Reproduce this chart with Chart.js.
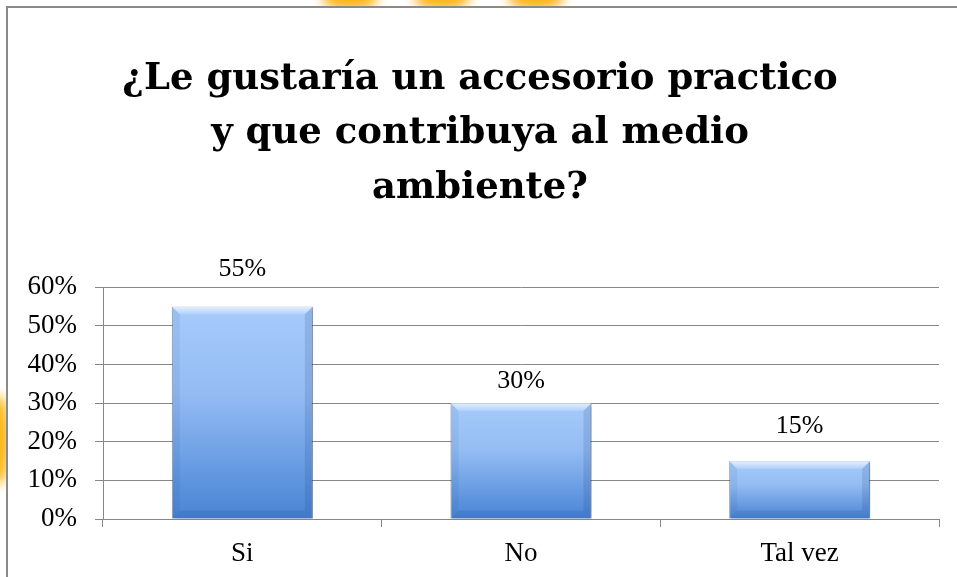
<!DOCTYPE html>
<html>
<head>
<meta charset="utf-8">
<script src="https://cdn.jsdelivr.net/npm/chart.js@4.4.1/dist/chart.umd.min.js"></script>
<style>
  html, body { margin: 0; padding: 0; background: #fff; width: 957px; height: 577px; overflow: hidden; }
  .blob { position: absolute; border-radius: 50%; filter: blur(6px); background: #fbb512; }
  #frame { position: absolute; left: 6px; top: 6px; width: 951px; height: 571px;
           border-top: 2px solid #8a8a8a; border-left: 2px solid #8a8a8a; background: #fff; }
  #wrap { position: absolute; left: 21px; top: 8px; width: 936px; height: 569px; }
</style>
</head>
<body>
<div class="blob" style="left:322px; top:-14px; width:56px; height:24px;"></div>
<div class="blob" style="left:414px; top:-14px; width:56px; height:24px;"></div>
<div class="blob" style="left:508px; top:-14px; width:56px; height:24px;"></div>
<div class="blob" style="left:-14px; top:395px; width:24px; height:90px;"></div>
<div id="frame"></div>
<div id="wrap"><canvas id="c" width="936" height="569"></canvas></div>
<script>
const titleLines = ['¿Le gustaría un accesorio practico', 'y que contribuya al medio', 'ambiente?'];
const categories = ['Si', 'No', 'Tal vez'];
const values = [55, 30, 15];
const yTickValues = [0, 10, 20, 30, 40, 50, 60];

const labelGap = [37, 22, 35];

const barDecor = {
  id: 'barDecor',
  beforeDatasetsDraw(chart) {
    const c = chart.ctx;
    c.save();
    c.shadowColor = 'rgba(0,0,0,0.32)';
    c.shadowBlur = 5;
    c.shadowOffsetX = 2;
    c.shadowOffsetY = 2;
  },
  afterDatasetsDraw(chart) {
    const c = chart.ctx;
    c.restore();
    const meta = chart.getDatasetMeta(0);
    meta.data.forEach((bar, i) => {
      const left = bar.x - bar.width / 2, right = bar.x + bar.width / 2;
      const top = bar.y, bot = bar.base;
      const b = Math.min(8, (bot - top) / 3);
      c.save();
      let g = c.createLinearGradient(0, top, 0, top + b);
      g.addColorStop(0, 'rgba(255,255,255,0.7)');
      g.addColorStop(1, 'rgba(255,255,255,0.12)');
      c.fillStyle = g;
      c.beginPath();
      c.moveTo(left, top); c.lineTo(right, top); c.lineTo(right - b, top + b); c.lineTo(left + b, top + b); c.closePath();
      c.fill();
      c.fillStyle = 'rgba(20,50,110,0.07)';
      c.beginPath();
      c.moveTo(left, top); c.lineTo(left + b, top + b); c.lineTo(left + b, bot - b); c.lineTo(left, bot); c.closePath();
      c.fill();
      c.fillStyle = 'rgba(20,50,110,0.14)';
      c.beginPath();
      c.moveTo(right, top); c.lineTo(right - b, top + b); c.lineTo(right - b, bot - b); c.lineTo(right, bot); c.closePath();
      c.fill();
      c.fillStyle = 'rgba(20,50,110,0.12)';
      c.beginPath();
      c.moveTo(left, bot); c.lineTo(left + b, bot - b); c.lineTo(right - b, bot - b); c.lineTo(right, bot); c.closePath();
      c.fill();
      c.fillStyle = '#000';
      c.font = '26px "Liberation Serif"';
      c.textAlign = 'center';
      c.textBaseline = 'middle';
      c.fillText(values[i] + '%', bar.x, top - labelGap[i]);
      c.restore();
    });
  }
};

const gridColor = '#878787';

new Chart(document.getElementById('c'), {
  type: 'bar',
  data: {
    labels: categories,
    datasets: [{
      data: values,
      backgroundColor: (ctx) => {
        const chart = ctx.chart;
        if (!chart.chartArea || ctx.raw === undefined) return '#8ab3ec';
        const ys = chart.scales.y;
        const top = ys.getPixelForValue(ctx.raw), bot = ys.getPixelForValue(0);
        const g = chart.ctx.createLinearGradient(0, top, 0, bot);
        g.addColorStop(0, '#a6cbfb');
        g.addColorStop(0.4, '#95bdf4');
        g.addColorStop(1, '#4884d5');
        return g;
      },
      borderColor: 'rgba(50,90,160,0.5)',
      borderWidth: 1,
      barPercentage: 0.506,
      categoryPercentage: 1
    }]
  },
  options: {
    responsive: false,
    animation: false,
    devicePixelRatio: 1,
    layout: { padding: { left: 0, right: 18, top: 0, bottom: 0 } },
    plugins: {
      legend: { display: false },
      tooltip: { enabled: false },
      title: {
        display: true,
        text: titleLines,
        color: '#000',
        font: { family: '"DejaVu Serif"', size: 37, weight: 'bold', lineHeight: 1.47 },
        padding: { top: 44, bottom: 72 }
      }
    },
    scales: {
      x: {
        afterFit(scale) { scale.height = 58; },
        grid: { display: true, drawOnChartArea: false, drawTicks: true, tickLength: 8, offset: true, color: gridColor, lineWidth: 1 },
        border: { display: true, color: gridColor, width: 1 },
        ticks: { color: '#000', font: { family: '"Liberation Serif"', size: 27 }, padding: 11 }
      },
      y: {
        min: 0, max: 60,
        afterFit(scale) { scale.width = 82; },
        afterBuildTicks(scale) { scale.ticks = yTickValues.map(v => ({ value: v })); },
        grid: { color: gridColor, lineWidth: 1, drawTicks: true, tickLength: 8 },
        border: { display: true, color: gridColor, width: 1 },
        ticks: { color: '#000', font: { family: '"Liberation Serif"', size: 27 }, padding: 18,
                 callback: (v) => v + '%' }
      }
    }
  },
  plugins: [barDecor]
});
</script>
</body>
</html>
